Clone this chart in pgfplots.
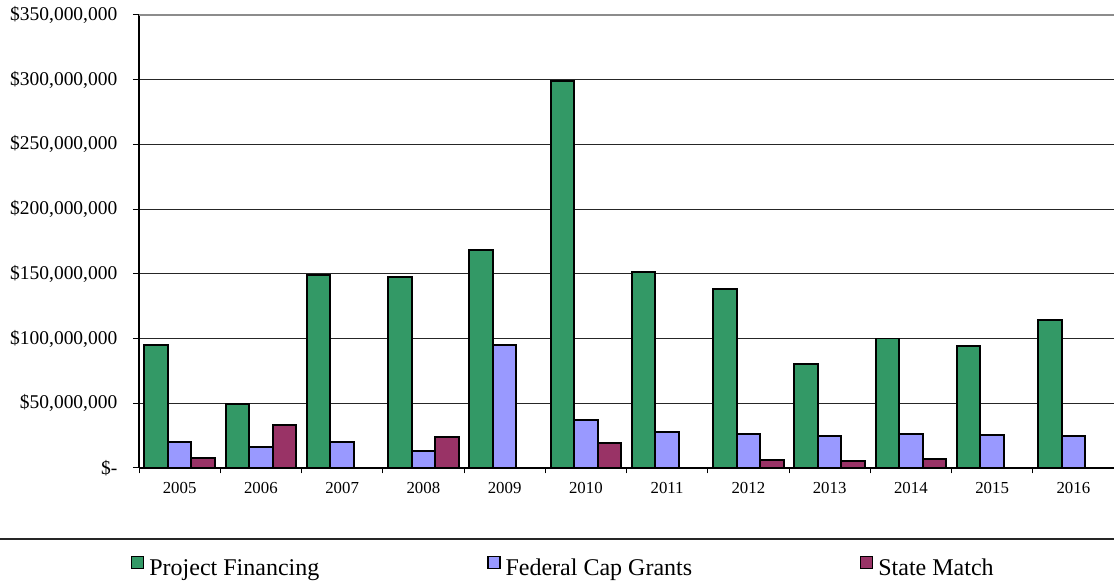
\documentclass[border=0pt]{standalone}
\usepackage{fontspec}
\setmainfont{Liberation Serif}
\usepackage{pgfplots}
\pgfplotsset{compat=1.18}
\definecolor{pf}{HTML}{339966}
\definecolor{fcg}{HTML}{9999FF}
\definecolor{sm}{HTML}{993366}
\begin{document}
\begin{tikzpicture}
\path[use as bounding box] (0,0) rectangle (835.5pt,438pt);
\begin{axis}[
  at={(104.25pt,87pt)}, anchor=south west,
  scale only axis, width=731.25pt, height=339.75pt,
  xmin=-0.5, xmax=11.5, ymin=0, ymax=350000000,
  ybar=0pt, bar width=17.6pt,
  axis x line*=bottom, axis y line*=left,
  axis line style={line width=1.1pt, black},
  scaled y ticks=false,
  ytick={0,50000000,100000000,150000000,200000000,250000000,300000000,350000000},
  yticklabels={\$-,{\$50,000,000},{\$100,000,000},{\$150,000,000},{\$200,000,000},{\$250,000,000},{\$300,000,000},{\$350,000,000}},
  xtick={0,1,2,3,4,5,6,7,8,9,10,11},
  xticklabels={2005,2006,2007,2008,2009,2010,2011,2012,2013,2014,2015,2016},
  minor xtick={-0.5,0.5,1.5,2.5,3.5,4.5,5.5,6.5,7.5,8.5,9.5,10.5,11.5},
  tick align=outside,
  major x tick style={draw=none},
  minor x tick style={black, line width=0.75pt},
  ytick style={black, line width=0.75pt},
  major tick length=4.5pt, minor tick length=4pt,
  ymajorgrids, xmajorgrids=false, xminorgrids=false,
  y grid style={black!85, line width=0.75pt},
  yticklabel style={font=\fontsize{14.6}{16}\selectfont, xshift=-8.25pt},
  xticklabel style={font=\fontsize{12.6}{14}\selectfont, yshift=-3pt},
  legend columns=3,
  legend style={at={(0.4343,-0.2185)}, anchor=center, draw=none, fill=none,
    font=\fontsize{18}{20}\selectfont,
    nodes={inner sep=0pt},
    /tikz/every odd column/.append style={column sep=3.75pt},
    /tikz/every even column/.append style={column sep=126pt}},
  legend image code/.code={\draw[#1, line width=0.9pt] (0pt,0pt) rectangle (9pt,9pt);},
]
\addplot[fill=pf, draw=black, line width=1.4pt] coordinates {(0,95300000) (1,49400000) (2,148800000) (3,147500000) (4,168100000) (5,299200000) (6,151100000) (7,138500000) (8,80600000) (9,100100000) (10,94200000) (11,114600000)};
\addplot[fill=fcg, draw=black, line width=1.4pt] coordinates {(0,20300000) (1,16200000) (2,20000000) (3,12800000) (4,95000000) (5,37300000) (6,27500000) (7,26000000) (8,24400000) (9,26000000) (10,25700000) (11,24400000)};
\addplot[fill=sm, draw=black, line width=1.4pt] coordinates {(0,7700000) (1,32900000) (3,24200000) (5,19300000) (7,5900000) (8,5400000) (9,6700000)};
\legend{Project Financing, Federal Cap Grants, State Match}
\draw[gray!90, line width=1.5pt] (rel axis cs:0,1) -- (rel axis cs:1,1);
\end{axis}
\draw[black!85, line width=1.2pt] (0,33.75pt) -- (835.5pt,33.75pt);
\end{tikzpicture}
\end{document}
